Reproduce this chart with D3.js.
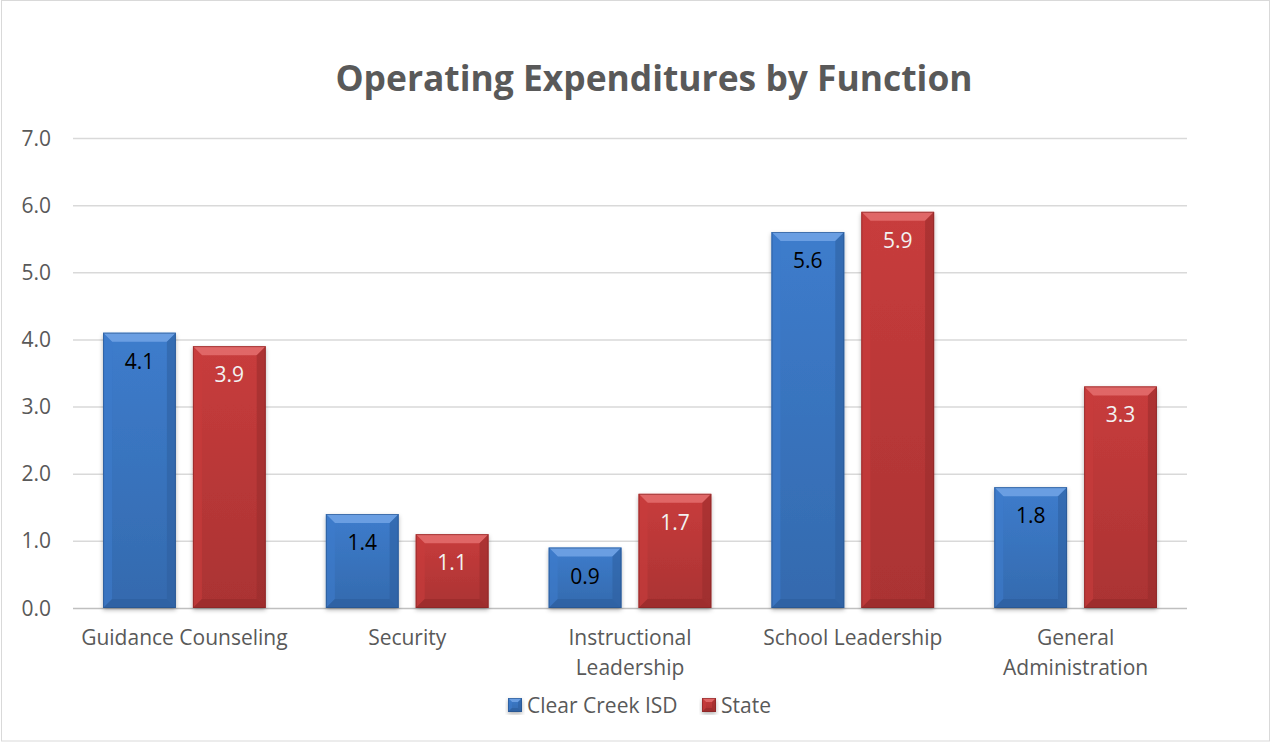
<!DOCTYPE html>
<html>
<head>
<meta charset="utf-8">
<script src="https://cdn.jsdelivr.net/npm/d3@7"></script>
<style>
    body { margin: 0; background: #fff; }
    svg text { font-family: "Open Sans", Lato, sans-serif; }
</style>
</head>
<body>
<div id="chart"></div>
<script>
// Chart data
const categories = [['Guidance Counseling'], ['Security'], ['Instructional', 'Leadership'], ['School Leadership'], ['General', 'Administration']];
const seriesNames = ['Clear Creek ISD', 'State'];
const districtValues = [4.1, 1.4, 0.9, 5.6, 1.8];
const stateValues = [3.9, 1.1, 1.7, 5.9, 3.3];
const yTicks = [0, 1, 2, 3, 4, 5, 6, 7];

const width = 1271;
const height = 742;
const margin = { top: 138, right: 84, bottom: 134, left: 73 };

const colors = [
    { base: '#3d7ccc', light: '#6fa2e4', dark: '#2d5f9f', text: '#000000' },
    { base: '#c83c3c', light: '#e26c6c', dark: '#982b2b', text: '#f2f2f2' }
];

const svg = d3.select('#chart').append('svg')
    .attr('width', width)
    .attr('height', height);

// Outer border
svg.append('rect')
    .attr('x', 1.5).attr('y', 0.5)
    .attr('width', width - 3).attr('height', height - 1.5)
    .attr('fill', 'none')
    .attr('stroke', '#d9d9d9');

const x = d3.scaleBand()
    .domain(d3.range(categories.length))
    .range([margin.left, width - margin.right]);

const y = d3.scaleLinear()
    .domain([0, 7])
    .range([height - margin.bottom, margin.top]);

const inner = d3.scaleBand()
    .domain([0, 1])
    .range([x.bandwidth() * 0.135, x.bandwidth() * 0.865])
    .paddingInner(0.19)
    .paddingOuter(0);

// Title
svg.append('text')
    .attr('x', 654)
    .attr('y', 91)
    .attr('text-anchor', 'middle')
    .attr('font-size', 35.4)
    .attr('font-weight', 'bold')
    .attr('fill', '#595959')
    .text('Operating Expenditures by Function');

// Gridlines
svg.append('g')
    .selectAll('line')
    .data(yTicks)
    .enter().append('line')
    .attr('x1', margin.left)
    .attr('x2', width - margin.right)
    .attr('y1', d => y(d) + 0.5)
    .attr('y2', d => y(d) + 0.5)
    .attr('stroke', d => d === 0 ? '#bfbfbf' : '#d9d9d9')
    .attr('stroke-width', 1.5);

// Y axis labels
svg.append('g')
    .selectAll('text')
    .data(yTicks)
    .enter().append('text')
    .attr('x', 51)
    .attr('y', d => y(d) + 7.5)
    .attr('text-anchor', 'end')
    .attr('font-size', 21)
    .attr('fill', '#595959')
    .text(d => d.toFixed(1));

// Gradients
const defs = svg.append('defs');
colors.forEach((c, i) => {
    const g = defs.append('linearGradient')
        .attr('id', 'grad' + i)
        .attr('x1', 0).attr('y1', 0).attr('x2', 0).attr('y2', 1);
    g.append('stop').attr('offset', '0%').attr('stop-color', c.base);
    g.append('stop').attr('offset', '100%').attr('stop-color', d3.color(c.base).darker(0.45));
});
const shadow = defs.append('filter').attr('id', 'shadow')
    .attr('x', '-20%').attr('y', '-20%').attr('width', '140%').attr('height', '140%');
shadow.append('feDropShadow')
    .attr('dx', 0).attr('dy', 2).attr('stdDeviation', 2)
    .attr('flood-color', '#000').attr('flood-opacity', 0.3);

// Draw a bevelled bar
function drawBar(g, x0, y0, w, h, c, idx, bev) {
    const b = Math.min(bev, h / 2);
    const bar = g.append('g');
    bar.append('rect')
        .attr('x', x0).attr('y', y0).attr('width', w).attr('height', h)
        .attr('fill', 'url(#grad' + idx + ')')
        .attr('filter', 'url(#shadow)');
    // top bevel
    bar.append('polygon')
        .attr('points', [[x0, y0], [x0 + w, y0], [x0 + w - b, y0 + b], [x0 + b, y0 + b]].join(' '))
        .attr('fill', c.light).attr('opacity', 0.9);
    // left bevel
    bar.append('polygon')
        .attr('points', [[x0, y0], [x0 + b, y0 + b], [x0 + b, y0 + h - b], [x0, y0 + h]].join(' '))
        .attr('fill', c.base).attr('opacity', 0.6);
    // right bevel
    bar.append('polygon')
        .attr('points', [[x0 + w, y0], [x0 + w - b, y0 + b], [x0 + w - b, y0 + h - b], [x0 + w, y0 + h]].join(' '))
        .attr('fill', c.dark).attr('opacity', 0.55);
    // bottom bevel
    bar.append('polygon')
        .attr('points', [[x0, y0 + h], [x0 + b, y0 + h - b], [x0 + w - b, y0 + h - b], [x0 + w, y0 + h]].join(' '))
        .attr('fill', c.dark).attr('opacity', 0.7);
    bar.append('rect')
        .attr('x', x0 + 0.5).attr('y', y0 + 0.5).attr('width', w - 1).attr('height', h - 1)
        .attr('fill', 'none')
        .attr('stroke', d3.color(c.dark).darker(0.4)).attr('stroke-width', 1).attr('opacity', 0.6);
}

const barsG = svg.append('g');
[districtValues, stateValues].forEach((vals, s) => {
    vals.forEach((v, i) => {
        const x0 = x(i) + inner(s);
        const w = inner.bandwidth();
        drawBar(barsG, x0, y(v), w, y(0) - y(v), colors[s], s, 9);
        barsG.append('text')
            .attr('x', x0 + w / 2)
            .attr('y', y(v) + 36)
            .attr('text-anchor', 'middle')
            .attr('font-size', 21)
            .attr('fill', colors[s].text)
            .text(v.toFixed(1));
    });
});

// X axis labels
const xl = svg.append('g');
categories.forEach((lines, i) => {
    lines.forEach((t, j) => {
        xl.append('text')
            .attr('x', x(i) + x.bandwidth() / 2)
            .attr('y', 645 + j * 30)
            .attr('text-anchor', 'middle')
            .attr('font-size', 21)
            .attr('fill', '#595959')
            .text(t);
    });
});

// Legend
const legendX = [508, 702];
const legend = svg.append('g');
seriesNames.forEach((name, s) => {
    const lx = legendX[s];
    drawBar(legend, lx, 698, 14, 14, colors[s], s, 4);
    legend.append('text')
        .attr('x', lx + 19)
        .attr('y', 712.5)
        .attr('font-size', 21)
        .attr('fill', '#595959')
        .text(name);
});
</script>
</body>
</html>
